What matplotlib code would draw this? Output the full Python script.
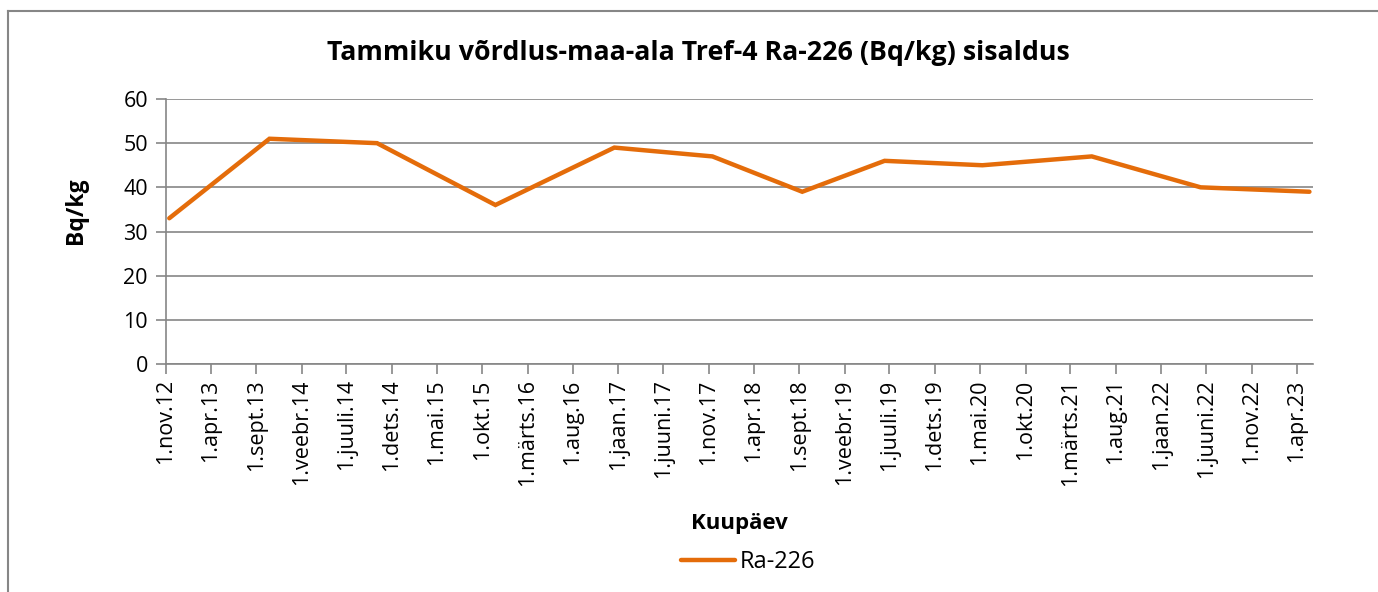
import pandas as pd
import matplotlib.pyplot as plt
from matplotlib.lines import Line2D

plt.rcParams['font.family'] = ['Open Sans', 'DejaVu Sans']

# Ra-226 measurements at Tref-4
sample_dates = ['2012-11-12', '2013-10-15', '2014-10-12', '2015-11-14',
                '2016-12-18', '2017-11-13', '2018-09-11', '2019-06-15',
                '2020-05-09', '2021-05-12', '2022-05-13', '2023-05-14']
ra226 = [33, 51, 50, 36, 49, 47, 39, 46, 45, 47, 40, 39]

tick_labels = ['1.nov.12', '1.apr.13', '1.sept.13', '1.veebr.14', '1.juuli.14',
               '1.dets.14', '1.mai.15', '1.okt.15', '1.märts.16', '1.aug.16',
               '1.jaan.17', '1.juuni.17', '1.nov.17', '1.apr.18', '1.sept.18',
               '1.veebr.19', '1.juuli.19', '1.dets.19', '1.mai.20', '1.okt.20',
               '1.märts.21', '1.aug.21', '1.jaan.22', '1.juuni.22', '1.nov.22',
               '1.apr.23']

dates = pd.to_datetime(sample_dates)
tick_dates = pd.date_range('2012-11-01', periods=len(tick_labels), freq='5MS')

orange = '#E46C0A'
grid_gray = '#868686'
W, H = 1378, 592

fig = plt.figure(figsize=(W / 100, H / 100), dpi=100)
ax = fig.add_axes([166 / W, 1 - 364 / H, (1313 - 166) / W, (364 - 99) / H])

ax.plot(dates, ra226, color=orange, lw=3.2, solid_capstyle='round',
        solid_joinstyle='miter', label='Ra-226', zorder=3)

ax.set_xlim(pd.Timestamp('2012-11-01'), pd.Timestamp('2023-05-26'))
ax.set_ylim(0, 60)
ax.set_yticks(range(0, 61, 10))
ax.set_xticks(tick_dates)
ax.set_xticklabels(tick_labels, rotation=90, fontsize=15.5)
ax.tick_params(axis='y', labelsize=15.5, length=7, width=1.2, color=grid_gray, pad=6)
ax.tick_params(axis='x', length=7, width=1.2, color=grid_gray, pad=4)

ax.grid(axis='y', color=grid_gray, lw=1.2)
ax.set_axisbelow(True)
for side in ['top', 'right']:
    ax.spines[side].set_visible(False)
for side in ['left', 'bottom']:
    ax.spines[side].set_color(grid_gray)
    ax.spines[side].set_linewidth(1.2)

fig.text(698 / W, 1 - 53 / H, 'Tammiku võrdlus-maa-ala Tref-4 Ra-226 (Bq/kg) sisaldus',
         fontsize=19.3, fontweight='bold', ha='center', va='center')
fig.text(76 / W, 1 - 211 / H, 'Bq/kg', fontsize=16.5, fontweight='bold',
         rotation=90, ha='center', va='center')
fig.text(739 / W, 1 - 523 / H, 'Kuupäev', fontsize=16, fontweight='bold',
         ha='center', va='center')

ax.legend(loc='center', bbox_to_anchor=(748 / W, 1 - 562 / H),
          bbox_transform=fig.transFigure, frameon=False, fontsize=17,
          handlelength=2.3, handletextpad=0.2)

# chart frame
fig.add_artist(Line2D([8 / W, 8 / W], [0, 1 - 11 / H],
                      transform=fig.transFigure, color=grid_gray, lw=1.5))
fig.add_artist(Line2D([8 / W, 1], [1 - 11 / H, 1 - 11 / H],
                      transform=fig.transFigure, color=grid_gray, lw=1.5))

fig.savefig('out.png', dpi=100)
